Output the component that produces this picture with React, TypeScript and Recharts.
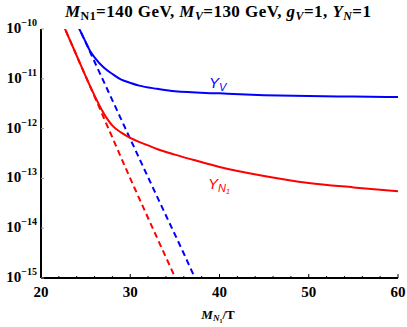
import React from "react";
import { LineChart, Line, XAxis, YAxis } from "recharts";

// x = M_N1 / T
const xLabelTicks = [20, 30, 40, 50, 60];
const xAllTicks = [20, 22, 24, 26, 28, 30, 32, 34, 36, 38, 40, 42, 44, 46, 48, 50, 52, 54, 56, 58, 60];
const yTicks = [1e-15, 1e-14, 1e-13, 1e-12, 1e-11, 1e-10];
const yTickExp = ["-15", "-14", "-13", "-12", "-11", "-10"];

// Y_V (blue solid)
const yvX = [23, 24.3, 25, 25.5, 26, 27, 28, 29, 30, 31, 33, 35, 40, 45, 50, 55, 60];
const yvY = [2.9e-10, 1.0e-10, 5.5e-11, 3.6e-11, 2.7e-11, 1.7e-11, 1.25e-11, 9.6e-12, 8.3e-12, 7.3e-12, 6.3e-12, 5.6e-12, 5.1e-12, 4.7e-12, 4.5e-12, 4.4e-12, 4.3e-12];

// Y_V equilibrium (blue dashed)
const yvEqX = [23, 24.3, 26, 28, 30, 32, 34, 36, 37.25, 38];
const yvEqY = [2.9e-10, 1.0e-10, 2.2e-11, 3.7e-12, 6.2e-13, 1.05e-13, 1.8e-14, 3.1e-15, 1.0e-15, 5.2e-16];

// Y_N1 (red solid)
const yn1X = [21, 22.7, 24, 26, 26.8, 27.5, 28, 29, 30, 31, 32, 33, 35, 37.5, 40, 45, 50, 55, 60];
const yn1Y = [5e-10, 1.0e-10, 2.9e-11, 4.6e-12, 2.4e-12, 1.5e-12, 1.15e-12, 8.3e-13, 6.5e-13, 5.4e-13, 4.6e-13, 3.9e-13, 3.0e-13, 2.24e-13, 1.7e-13, 1.12e-13, 8.1e-14, 6.6e-14, 5.5e-14];

// Y_N1 equilibrium (red dashed)
const yn1EqX = [21, 22.7, 24, 26, 28, 30, 32, 34, 35, 36];
const yn1EqY = [5e-10, 1.0e-10, 2.9e-11, 4.4e-12, 6.6e-13, 1.0e-13, 1.6e-14, 2.6e-15, 1.05e-15, 4.2e-16];

const zip = (xs: number[], ys: number[]) => xs.map((x, i) => ({ x, y: ys[i] }));

const SERIF = "'Liberation Serif', 'DejaVu Serif', serif";
const SANS = "'Liberation Sans', Arial, sans-serif";

const BottomTick = (props: any) => {
  const { x, y, payload } = props;
  const major = xLabelTicks.includes(payload.value);
  return (
    <g>
      <line x1={x} x2={x} y1={y} y2={y - (major ? 4 : 2)} stroke="#000" strokeWidth={1} />
      {major && (
        <text x={x} y={y + 19} textAnchor="middle" fontFamily={SERIF} fontWeight="bold" fontSize={15} fill="#000">
          {payload.value}
        </text>
      )}
    </g>
  );
};

const TopTick = (props: any) => {
  const { x, y, payload } = props;
  const major = xLabelTicks.includes(payload.value);
  return <line x1={x} x2={x} y1={y} y2={y + (major ? 4 : 2)} stroke="#000" strokeWidth={1} />;
};

const LeftTick = (props: any) => {
  const { x, y, index } = props;
  return (
    <g>
      <line x1={x} x2={x + 3} y1={y} y2={y} stroke="#999" strokeWidth={1} />
      <text x={x - 4} y={y + 4} textAnchor="end" fontFamily={SERIF} fontWeight="bold" fontSize={15} fill="#000">
        <tspan>10</tspan>
        <tspan dy={-7} fontSize={10}>{yTickExp[index]?.replace("-", "\u2212")}</tspan>
      </text>
    </g>
  );
};

const RightTick = (props: any) => {
  const { x, y } = props;
  return <line x1={x} x2={x - 3} y1={y} y2={y} stroke="#999" strokeWidth={1} />;
};

const App = () => {
  return (
    <div style={{ position: "absolute", left: 0, top: 0, width: 407, height: 327, background: "#fff" }}>
      <LineChart width={407} height={327} margin={{ top: 29, right: 9, bottom: 0, left: 0 }}>
        <XAxis
          dataKey="x"
          type="number"
          domain={[20, 60]}
          ticks={xAllTicks}
          interval={0}
          height={49}
          tickSize={0}
          tickMargin={0}
          tickLine={false}
          tick={<BottomTick />}
          axisLine={{ stroke: "#000", strokeWidth: 2 }}
          allowDataOverflow
        />
        <XAxis
          xAxisId="top"
          orientation="top"
          dataKey="x"
          type="number"
          domain={[20, 60]}
          ticks={xAllTicks}
          interval={0}
          height={0}
          tickSize={0}
          tickMargin={0}
          tickLine={false}
          tick={<TopTick />}
          axisLine={{ stroke: "#000", strokeWidth: 2 }}
          allowDataOverflow
        />
        <YAxis
          scale="log"
          domain={[1e-15, 1e-10]}
          ticks={yTicks}
          interval={0}
          width={41}
          tickSize={0}
          tickMargin={0}
          tickLine={false}
          tick={<LeftTick />}
          axisLine={{ stroke: "#000", strokeWidth: 2 }}
          allowDataOverflow
        />
        <YAxis
          yAxisId="right"
          orientation="right"
          scale="log"
          domain={[1e-15, 1e-10]}
          ticks={yTicks}
          interval={0}
          width={0}
          tickSize={0}
          tickMargin={0}
          tickLine={false}
          tick={<RightTick />}
          axisLine={{ stroke: "#000", strokeWidth: 2 }}
          allowDataOverflow
        />
        <Line data={zip(yn1EqX, yn1EqY)} dataKey="y" type="monotone" stroke="#ff0000" strokeWidth={2} strokeDasharray="6 4" dot={false} isAnimationActive={false} />
        <Line data={zip(yvEqX, yvEqY)} dataKey="y" type="monotone" stroke="#0000ff" strokeWidth={2} strokeDasharray="6 4" dot={false} isAnimationActive={false} />
        <Line data={zip(yn1X, yn1Y)} dataKey="y" type="monotone" stroke="#ff0000" strokeWidth={2} dot={false} isAnimationActive={false} />
        <Line data={zip(yvX, yvY)} dataKey="y" type="monotone" stroke="#0000ff" strokeWidth={2} dot={false} isAnimationActive={false} />
      </LineChart>
      <svg width={407} height={327} style={{ position: "absolute", left: 0, top: 0, pointerEvents: "none" }}>
        <text x={65} y={17} textLength={306} lengthAdjust="spacing" fontFamily={SERIF} fontWeight="bold" fontSize={17} fill="#000">
          <tspan fontStyle="italic">M</tspan>
          <tspan dy={3} fontSize={12}>N1</tspan>
          <tspan dy={-3}>=140 GeV, </tspan>
          <tspan fontStyle="italic">M</tspan>
          <tspan dy={3} fontSize={12} fontStyle="italic">V</tspan>
          <tspan dy={-3}>=130 GeV, </tspan>
          <tspan fontStyle="italic">g</tspan>
          <tspan dy={3} fontSize={12} fontStyle="italic">V</tspan>
          <tspan dy={-3}>=1, </tspan>
          <tspan fontStyle="italic">Y</tspan>
          <tspan dy={3} fontSize={12} fontStyle="italic">N</tspan>
          <tspan dy={-3}>=1</tspan>
        </text>
        <text x={218} y={319} textAnchor="middle" fontFamily={SERIF} fontWeight="bold" fontSize={13} fill="#000">
          <tspan fontStyle="italic">M</tspan>
          <tspan dy={2} fontSize={9} fontStyle="italic">N</tspan>
          <tspan dy={2} fontSize={6}>1</tspan>
          <tspan dy={-4}>/T</tspan>
        </text>
        <text x={209} y={88} fontFamily={SANS} fontStyle="italic" fontSize={15} fill="#0000ff">
          <tspan>Y</tspan>
          <tspan dy={3} fontSize={11}>V</tspan>
        </text>
        <text x={208} y={189} fontFamily={SANS} fontStyle="italic" fontSize={15} fill="#ff0000">
          <tspan>Y</tspan>
          <tspan dy={3} fontSize={11}>N</tspan>
          <tspan dy={2} fontSize={7}>1</tspan>
        </text>
      </svg>
    </div>
  );
};

export default App;
